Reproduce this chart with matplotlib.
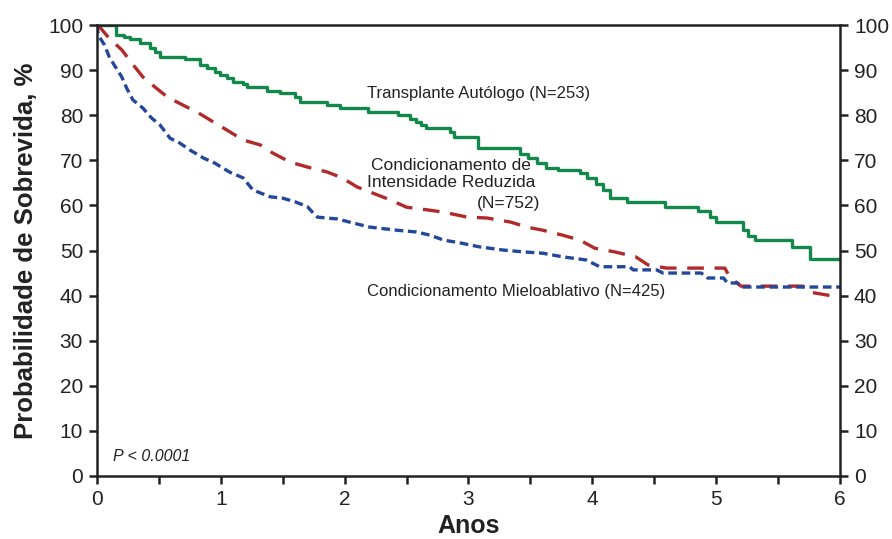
import numpy as np
import matplotlib
matplotlib.use("Agg")
import matplotlib.pyplot as plt
from matplotlib.ticker import MultipleLocator

plt.rcParams['font.family'] = ['Liberation Sans', 'DejaVu Sans']

# Transplante Autologo (N=253)  - step curve
auto_t = [0, 0.15, 0.22, 0.27, 0.35, 0.43, 0.47, 0.51, 0.71, 0.83, 0.89, 0.95, 0.99,
          1.05, 1.10, 1.18, 1.21, 1.37, 1.48, 1.60, 1.64, 1.86, 1.96, 2.19, 2.43, 2.53,
          2.58, 2.62, 2.66, 2.85, 2.88, 3.08, 3.42, 3.48, 3.55, 3.63, 3.72, 3.90, 3.96,
          4.03, 4.09, 4.14, 4.28, 4.59, 4.85, 4.95, 5.00, 5.22, 5.26, 5.31, 5.61, 5.76, 6.0]
auto_s = [100, 97.8, 97.3, 96.9, 96.0, 95.0, 94.0, 93.0, 92.5, 91.1, 90.4, 89.6, 88.9,
          88.2, 87.4, 86.9, 86.3, 85.4, 84.9, 84.0, 82.9, 82.3, 81.6, 80.8, 80.0, 79.2,
          78.5, 77.8, 77.2, 76.2, 75.2, 72.7, 71.5, 70.5, 69.3, 68.3, 67.8, 67.2, 66.0,
          64.8, 63.4, 61.6, 60.8, 59.7, 58.8, 57.5, 56.3, 54.5, 53.3, 52.3, 50.8, 48.1, 48.1]

# Condicionamento de Intensidade Reduzida (N=752)
ric_t = [0, 0.03, 0.10, 0.20, 0.28, 0.37, 0.47, 0.57, 0.69, 0.82, 0.94, 1.05, 1.18,
         1.32, 1.42, 1.56, 1.70, 1.86, 1.98, 2.10, 2.23, 2.37, 2.50, 2.67, 2.80, 2.99,
         3.15, 3.34, 3.47, 3.60, 3.76, 3.90, 4.02, 4.18, 4.35, 4.45, 4.60, 5.07, 5.11,
         5.20, 5.70, 5.75, 5.90, 6.0]
ric_s = [100, 99.3, 97.0, 94.5, 91.6, 88.5, 86.2, 84.0, 82.3, 80.5, 78.5, 76.7, 74.5,
         73.4, 71.6, 69.6, 68.5, 67.4, 66.1, 64.1, 62.7, 61.2, 59.6, 59.0, 58.5, 57.4,
         57.2, 56.3, 55.2, 54.5, 53.4, 52.3, 50.5, 49.7, 48.6, 46.8, 46.1, 46.1, 44.1,
         42.1, 42.1, 40.8, 40.1, 39.5]

# Condicionamento Mieloablativo (N=425)
mac_t = [0, 0.01, 0.06, 0.10, 0.14, 0.20, 0.24, 0.29, 0.37, 0.44, 0.51, 0.59, 0.67,
         0.75, 0.86, 0.95, 1.07, 1.18, 1.26, 1.40, 1.50, 1.60, 1.70, 1.74, 1.78, 1.94,
         2.04, 2.20, 2.42, 2.58, 2.69, 2.80, 2.93, 3.09, 3.28, 3.44, 3.60, 3.76, 3.95,
         4.06, 4.30, 4.33, 4.52, 4.57, 4.88, 4.93, 5.06, 5.09, 5.17, 5.22, 6.0]
mac_s = [100, 97.8, 95.6, 92.9, 91.1, 88.5, 86.0, 83.4, 81.6, 79.4, 77.8, 74.9, 73.8,
         72.3, 70.5, 69.4, 67.4, 66.1, 63.4, 61.9, 61.6, 60.8, 59.7, 58.5, 57.4, 57.0,
         56.3, 55.2, 54.5, 54.1, 53.4, 52.3, 51.7, 50.8, 50.1, 49.7, 49.4, 48.6, 47.9,
         46.4, 46.4, 45.7, 45.7, 45.0, 45.0, 43.9, 43.9, 42.8, 42.8, 41.9, 41.9]

fig = plt.figure(figsize=(8.92, 5.39), dpi=100)
ax = fig.add_axes([0.1087, 0.1169, 0.8330, 0.8367])

green = '#12884a'
red = '#b02a2a'
blue = '#23479a'

ax.step(auto_t, auto_s, where='post', color=green, lw=2.4)
ax.plot(ric_t, ric_s, color=red, lw=2.4, linestyle=(0, (5, 3.2)))
ax.plot(mac_t, mac_s, color=blue, lw=2.4, linestyle=(0, (2.6, 1.4)))

ax.set_xlim(0, 6)
ax.set_ylim(0, 100)
ax.xaxis.set_major_locator(MultipleLocator(1))
ax.xaxis.set_minor_locator(MultipleLocator(0.5))
ax.yaxis.set_major_locator(MultipleLocator(10))

for s in ax.spines.values():
    s.set_linewidth(1.8)
    s.set_color('#222222')

ax.tick_params(axis='both', which='both', direction='out', width=1.8, color='#222222',
               labelsize=15, labelcolor='#222222')
ax.tick_params(axis='x', which='both', length=6, pad=4)
ax.tick_params(axis='y', length=6, pad=4, right=True, labelright=True)

ax.set_xlabel('Anos', fontsize=18, fontweight='bold', color='#222222', labelpad=4)
ax.set_ylabel('Probabilidade de Sobrevida, %', fontsize=18.5, fontweight='bold',
              color='#222222', labelpad=7)

tc = '#222222'
ax.text(2.18, 84.9, 'Transplante Autólogo (N=253)', fontsize=12, color=tc, va='center')
ax.text(2.86, 66.9, 'Condicionamento de\nIntensidade Reduzida', fontsize=12.5, color=tc,
        va='center', ha='center', linespacing=1.2)
ax.text(3.58, 60.5, '(N=752)', fontsize=12.5, color=tc, va='center', ha='right')
ax.text(2.18, 40.8, 'Condicionamento Mieloablativo (N=425)', fontsize=12, color=tc,
        va='center')
ax.text(0.13, 4.4, 'P < 0.0001', fontsize=11.5, style='italic', color=tc, va='center')

fig.savefig('out.png', dpi=100)
